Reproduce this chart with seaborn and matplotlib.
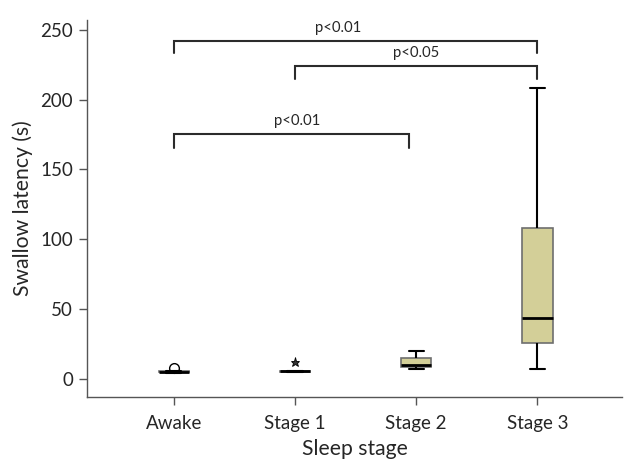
import matplotlib
matplotlib.use("Agg")
import matplotlib.pyplot as plt
import seaborn as sns
import pandas as pd
import numpy as np

# ---- data ----
categories = ["Awake", "Stage 1", "Stage 2", "Stage 3"]
awake = [4.2, 4.5, 4.8, 5.0, 5.3, 5.5, 7.9]
stage1 = [4.8, 5.0, 5.2, 5.5, 5.8, 6.0, 12.0]
stage2 = [7.0, 8.6, 10.0, 15.0, 20.0]
stage3 = [7.0, 25.8, 44.0, 108.0, 208.0]
yticks = [0, 50, 100, 150, 200, 250]

# significance brackets: (left idx, right idx, top y, left foot y, right foot y, label, label x)
brackets = [
    (0, 3, 242, 233, 233, "p<0.01", 1.36),
    (1, 3, 224, 215, 215, "p<0.05", 2.0),
    (0, 1.94, 175.5, 165.5, 165.5, "p<0.01", 1.02),
]

values = [awake, stage1, stage2, stage3]
df = pd.DataFrame({
    "stage": np.repeat(categories, [len(v) for v in values]),
    "latency": np.concatenate(values),
})

sns.set_style("ticks")
plt.rcParams["font.family"] = ["Lato", "DejaVu Sans"]

fig = plt.figure(figsize=(6.24, 4.65), dpi=100)
ax = fig.add_axes([0.1394, 0.1462, 0.858, 0.811])

sns.boxplot(
    data=df, x="stage", y="latency", order=categories, ax=ax,
    width=0.25, color="#D3CF98", saturation=1, linecolor="black", linewidth=1.5,
    boxprops=dict(edgecolor="#6e6e6e", linewidth=1.2),
    medianprops=dict(color="black", linewidth=2),
    whiskerprops=dict(color="black", linewidth=1.5),
    capprops=dict(color="black", linewidth=1.5),
    flierprops=dict(marker="o", markerfacecolor="none",
                    markeredgecolor="black", markersize=7, markeredgewidth=1),
)

# Stage 1 outlier shown as a star
for ln in ax.lines:
    yd = np.asarray(ln.get_ydata(), dtype=float)
    if ln.get_marker() == "o" and yd.size and np.any(np.isclose(yd, stage1[-1])):
        ln.set_marker("*")
        ln.set_markerfacecolor("#333333")
        ln.set_markeredgewidth(0.6)
        ln.set_markersize(6.5)

for (a, b, top, fl, fr, lab, lx) in brackets:
    ax.plot([a, a, b, b], [fl, top, top, fr], color="#2b2b2b", lw=1.5,
            solid_joinstyle="miter", clip_on=False)
    ax.text(lx, top + 4, lab, ha="center", va="bottom", fontsize=10.7)

ax.set_xlim(-0.715, 3.70)
ax.set_ylim(-12.9, 257)
ax.set_yticks(yticks)
ax.set_xlabel("Sleep stage", fontsize=15.2, labelpad=5)
ax.set_ylabel("Swallow latency (s)", fontsize=15.2, labelpad=5)
ax.tick_params(axis="both", labelsize=13.5, color="#555555", length=6, width=1)
ax.tick_params(axis="x", pad=7)
ax.tick_params(axis="y", pad=4)
for s in ["top", "right"]:
    ax.spines[s].set_visible(False)
for s in ["left", "bottom"]:
    ax.spines[s].set_color("#555555")
    ax.spines[s].set_linewidth(1)

fig.savefig("out.png", dpi=100)
